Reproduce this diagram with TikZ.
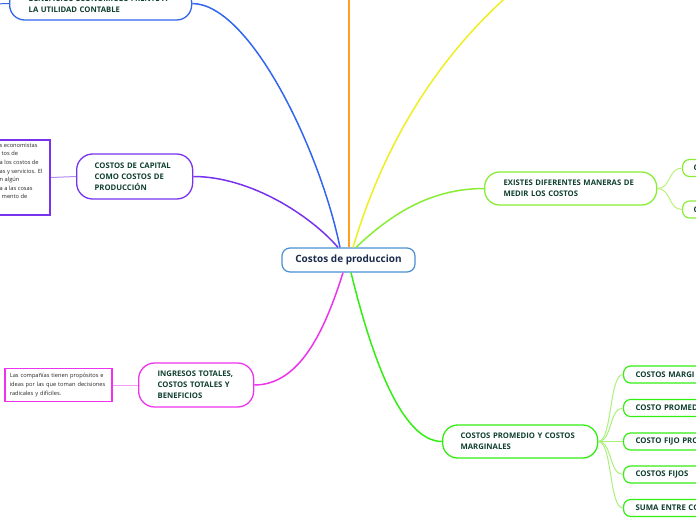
\documentclass[tikz,border=0pt]{standalone}
\usepackage{fontspec}
\setmainfont{Open Sans}
\usetikzlibrary{calc}
\definecolor{txt}{HTML}{0F3F30}
\definecolor{navy}{HTML}{1A2B4C}
\definecolor{cblue}{HTML}{4A90D0}
\definecolor{blueC}{HTML}{3366EE}
\definecolor{orangeC}{HTML}{FFA020}
\definecolor{yellowC}{HTML}{EEEE22}
\definecolor{ygC}{HTML}{88EE33}
\definecolor{purpC}{HTML}{7733EE}
\definecolor{magC}{HTML}{EE33EE}
\definecolor{greenC}{HTML}{33EE11}
\definecolor{purpL}{HTML}{B28CF5}
\definecolor{magL}{HTML}{F59AF5}
\definecolor{greenL}{HTML}{AAF07A}
\definecolor{ygL}{HTML}{BBF07A}
\begin{document}
\begin{tikzpicture}[x=1pt,y=-1pt,
  hd/.style={draw, line width=1.3pt, rounded corners=15pt, fill=white,
    font=\fontsize{7.7}{11}\selectfont\bfseries, text=txt, align=left,
    anchor=west, inner ysep=0pt},
  kid/.style={draw, line width=1.2pt, rounded corners=7pt, fill=white,
    font=\fontsize{7.8}{10}\selectfont\bfseries, text=txt, align=left,
    anchor=west, inner ysep=0pt, minimum height=17, inner xsep=12, text width=106},
  small/.style={font=\fontsize{5.7}{8.6}\selectfont, text=black!85, align=left},
  mainline/.style={line width=1.5pt},
  subline/.style={line width=1pt}]
\useasboundingbox (0,0) rectangle (696,520);

% central node
\node[draw=cblue, line width=1.2pt, rounded corners=8pt, fill=white,
  minimum width=133, minimum height=24, inner sep=0pt,
  font=\fontsize{10}{12}\selectfont\bfseries, text=navy] (c) at (348.5,260) {Costos de produccion};

% main topics
\node[hd, draw=blueC, minimum height=33, inner xsep=19, text width=144] (tl) at (9,3.5)
  {\mbox{BENEFICIOS ECONÓMICOS FRENTE A}\\\mbox{LA UTILIDAD CONTABLE}};
\node[hd, draw=purpC, rounded corners=16pt, minimum height=45, inner xsep=18, text width=80] (cap) at (76,176.5)
  {\mbox{COSTOS DE CAPITAL}\\\mbox{COMO COSTOS DE}\\\mbox{PRODUCCIÓN}};
\node[hd, draw=magC, rounded corners=16pt, minimum height=44, inner xsep=19, text width=77] (ing) at (138,385)
  {\mbox{INGRESOS TOTALES,}\\\mbox{COSTOS TOTALES Y}\\\mbox{BENEFICIOS}};
\node[hd, draw=ygC, minimum height=33, inner xsep=19, text width=134] (ex) at (484,188.5)
  {\mbox{EXISTES DIFERENTES MANERAS DE}\\\mbox{MEDIR LOS COSTOS}};
\node[hd, draw=greenC, minimum height=33, inner xsep=18, text width=119] (pm) at (442,441.5)
  {\mbox{COSTOS PROMEDIO Y COSTOS}\\\mbox{MARGINALES}};

% left detail boxes
\node[draw=purpC, line width=2pt, minimum width=129, minimum height=75, anchor=north west, inner sep=0pt] (pbox) at (-80,139) {};
\node[small, anchor=north west, inner sep=0pt] (ptxt) at (-0.5,143)
  {s economistas\\\hspace{2pt}tos de\\a los costos de\\as y servicios. El\\n algún\\a a las cosas\\\hspace{2pt}mento de};
\node[draw=magC, line width=1.6pt, anchor=west, minimum height=33, inner xsep=5, text width=97, small] (mbox) at (4,385)
  {\mbox{Las compañías tienen propósitos e}\\\mbox{ideas por las que toman decisiones}\\\mbox{radicales y difíciles.}};

% children of EXISTES
\node[kid, draw=ygC, inner xsep=11] (ex1) at (682,168) {C};
\node[kid, draw=ygC, inner xsep=11] (ex2) at (682,209.5) {C};

% children of COSTOS PROMEDIO
\node[kid, draw=greenC] (p1) at (623,374.5) {COSTOS MARGI};
\node[kid, draw=greenC] (p2) at (623,408) {COSTO PROMED};
\node[kid, draw=greenC] (p3) at (623,441.5) {COSTO FIJO PRO};
\node[kid, draw=greenC] (p4) at (623,474.5) {COSTOS FIJOS};
\node[kid, draw=greenC] (p5) at (623,508) {SUMA ENTRE CO};

% free ends
\coordinate (otop) at (349,-2);
\coordinate (ytop) at (512,-8);
\coordinate (tlout) at (-6,4);

% main connectors
\draw[mainline, blueC] (tl.east) .. controls (250,4) and (320,150) .. ($(c.north)+(-8.5,0)$);
\draw[mainline, orangeC] ($(c.north)+(0.5,0)$) -- (otop);
\draw[mainline, yellowC] ($(c.north)+(4.5,0)$) .. controls (385,140) and (440,55) .. (ytop);
\draw[mainline, ygC] ($(c.north)+(7.5,0)$) .. controls (390,215) and (430,188.5) .. (ex.west);
\draw[mainline, purpC] (cap.east) .. controls (250,176.5) and (310,215) .. ($(c.north)+(-10.5,0)$);
\draw[mainline, magC] ($(c.south)+(-5.5,0)$) .. controls (325,330) and (300,385) .. (ing.east);
\draw[mainline, greenC] ($(c.south)+(2.5,0)$) .. controls (370,350) and (400,441.5) .. (pm.west);

% sub connectors
\draw[subline, blueC] (tl.west) -- (tlout);
\draw[subline, purpL] (pbox.east) -- (cap.west);
\draw[subline, magL] (mbox.east) -- (ing.west);
\foreach \k in {ex1,ex2}
  \draw[subline, ygL] (ex.east) .. controls +(14,0) and +(-14,0) .. (\k.west);
\foreach \k in {p1,p2,p3,p4,p5}
  \draw[subline, greenL] (pm.east) .. controls +(14,0) and +(-14,0) .. (\k.west);
\end{tikzpicture}
\end{document}
